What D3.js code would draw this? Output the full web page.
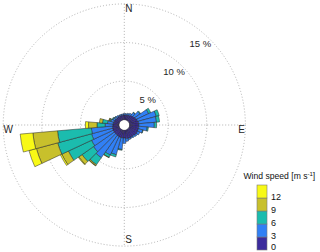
<!DOCTYPE html>
<html>
<head>
<meta charset="utf-8">
<script src="https://cdn.jsdelivr.net/npm/d3@7"></script>
<style>
  html, body { margin: 0; padding: 0; background: #fff; }
  svg { display: block; font-family: "Liberation Sans", Arial, Helvetica, sans-serif; }
</style>
</head>
<body>
<svg id="chart" width="320" height="252"></svg>
<script>
// ---- data (percent of time per direction and speed bin) ----
const directions = [0,10,20,30,40,50,60,70,80,90,100,110,120,130,140,150,160,170,
                    180,190,200,210,220,230,240,250,260,270,280,290,300,310,320,330,340,350];
const speed0to3 = [0.6,0.6,0.65,0.7,0.8,0.9,1.0,1.1,1.2,1.2,1.2,1.2,1.2,1.2,1.1,1.1,1.1,1.1,
                   1.0,1.0,1.0,0.95,0.9,0.9,0.9,0.9,0.85,0.8,0.75,0.7,0.65,0.6,0.6,0.6,0.6,0.6];
const speed3to6 = [0.2,0.2,0.25,0.3,0.5,0.9,1.8,2.5,2.3,2.0,1.1,0.6,0.35,0.2,0.2,0.15,0.2,0.35,
                   0.7,1.5,2.3,2.65,3.6,3.3,3.1,2.8,2.75,1.0,0.75,0.4,0.3,0.25,0.2,0.15,0.15,0.15];
const speed6to9 = [0,0,0,0,0.05,0.1,0.3,0.4,0.4,0.3,0.15,0.05,0,0,0,0,0,0,
                   0,0.1,0.3,0.35,1.1,1.8,3.3,4.55,4.4,1.05,0.65,0.15,0.1,0.05,0,0,0,0];
const speed9to12 = [0,0,0,0,0,0,0,0,0,0,0,0,0,0,0,0,0,0,
                    0,0,0,0.05,0.15,0.5,0.95,2.85,3.2,1.1,0.4,0.1,0,0,0,0,0,0];
const speed12up = [0,0,0,0,0,0,0,0,0,0,0,0,0,0,0,0,0,0,
                   0,0,0,0,0.05,0.1,0.2,1.0,1.65,0.4,0,0.05,0,0,0,0,0,0];
const series = [speed0to3, speed3to6, speed6to9, speed9to12, speed12up];
const speedTicks = ["0","3","6","9","12"];
const colors = ["#3b2b9d","#3180f5","#1bbcae","#c8c02c","#f8f916"];
const ringValues = [5,10,15];

// ---- layout ----
const svg = d3.select("#chart");
const cx = 124.3, cy = 125;
const r = d3.scaleLinear().domain([0,15]).range([5.3,121.1]);
const binWidth = 10;
const rad = d => d * Math.PI / 180;
const g = svg.append("g").attr("transform", `translate(${cx},${cy})`);

// grid
const gridColor = "#a0a0a0";
g.selectAll("circle.ring").data(ringValues).join("circle")
  .attr("class","ring").attr("r", d => r(d))
  .attr("fill","none").attr("stroke",gridColor).attr("stroke-width",0.8)
  .attr("stroke-dasharray","1,2");
const R = r(15);
g.append("line").attr("x1",-R).attr("x2",R).attr("y1",0).attr("y2",0)
  .attr("stroke",gridColor).attr("stroke-width",0.8).attr("stroke-dasharray","1,2");
g.append("line").attr("y1",-R).attr("y2",R).attr("x1",0).attr("x2",0)
  .attr("stroke",gridColor).attr("stroke-width",0.8).attr("stroke-dasharray","1,2");

// bars
const segs = [];
directions.forEach((d, i) => {
  let cum = 0;
  series.forEach((s, k) => {
    const v = s[i];
    if (v > 0) segs.push({dir:d, k, y0:cum, y1:cum+v});
    cum += v;
  });
});
const arc = d3.arc()
  .innerRadius(d => r(d.y0))
  .outerRadius(d => r(d.y1))
  .startAngle(d => rad(d.dir - binWidth/2))
  .endAngle(d => rad(d.dir + binWidth/2));
g.selectAll("path.seg").data(segs).join("path")
  .attr("class","seg").attr("d", arc)
  .attr("fill", d => colors[d.k])
  .attr("stroke","#262626").attr("stroke-width",0.5).attr("stroke-linejoin","round");

// center hole
g.append("circle").attr("r", r(0) - 1).attr("fill","#fff");

// ring labels
g.selectAll("text.pct").data(ringValues).join("text")
  .attr("class","pct")
  .attr("x", d => (r(d) - 9.5) * Math.sin(rad(43)))
  .attr("y", d => -(r(d) - 9.5) * Math.cos(rad(43)))
  .attr("text-anchor","middle").attr("dy","0.35em")
  .attr("font-size", 9.5).attr("fill","#262626")
  .text(d => d + " %");

// compass labels
const cFont = 10;
g.append("text").text("N").attr("x",1).attr("y",-R+8.3).attr("font-size",cFont).attr("fill","#262626");
g.append("text").text("S").attr("x",1).attr("y",R-3).attr("font-size",cFont).attr("fill","#262626");
g.append("text").text("W").attr("x",-R+0.3).attr("y",7.6).attr("font-size",cFont).attr("fill","#262626");
g.append("text").text("E").attr("x",R-0.5).attr("y",7.6).attr("text-anchor","end").attr("font-size",cFont).attr("fill","#262626");

// legend
const lx = 257, ly = 185, lw = 10, lh = 13;
const leg = svg.append("g");
const legY = d3.scaleLinear().domain([0, 5]).range([ly + 5*lh, ly]);
leg.selectAll("rect").data(colors).join("rect")
  .attr("x", lx).attr("y", (c,i) => legY(i+1)).attr("width", lw).attr("height", lh)
  .attr("fill", c => c).attr("stroke","#7a7a7a").attr("stroke-width",0.6);
leg.selectAll("text.tick").data(speedTicks).join("text")
  .attr("class","tick")
  .attr("x", lx + lw + 4).attr("y", (t,i) => Math.min(legY(i) - 1, 247.3)).attr("dy","0.35em")
  .attr("font-size", 9).attr("fill","#111").text(t => t);
const title = leg.append("text").attr("x", 243.5).attr("y", 179).attr("font-size", 8.6).attr("fill","#111");
title.append("tspan").text("Wind speed [m s");
title.append("tspan").attr("dy",-3).attr("font-size",6).text("-1");
title.append("tspan").attr("dy",3).text("]");
</script>
</body>
</html>
